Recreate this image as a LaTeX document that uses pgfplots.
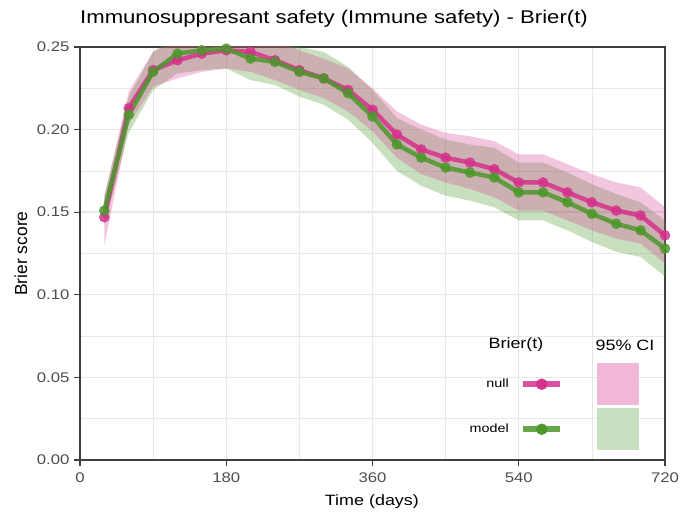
\documentclass[border=0pt]{standalone}
\usepackage{graphicx}
\usepackage{pgfplots}
\pgfplotsset{compat=1.18}
\usepackage{pgfplotstable}
\usepgfplotslibrary{fillbetween}
\usepackage{fontspec}
\setmainfont{Liberation Sans}
\definecolor{pinkc}{RGB}{212,50,140}
\definecolor{greenc}{RGB}{76,152,44}
\definecolor{gridc}{RGB}{232,232,232}
\definecolor{tickc}{RGB}{77,77,77}
\newcommand\hs[1]{\scalebox{1.2}[1]{#1}}

\pgfplotstableread{
day null nlo nhi model mlo mhi
30  0.147 0.130 0.160 0.151 0.142 0.160
60  0.213 0.203 0.223 0.209 0.198 0.220
90  0.236 0.226 0.247 0.235 0.224 0.247
120 0.242 0.231 0.254 0.246 0.234 0.258
150 0.246 0.235 0.258 0.248 0.236 0.260
180 0.248 0.237 0.260 0.249 0.237 0.261
210 0.247 0.235 0.259 0.243 0.230 0.256
240 0.242 0.230 0.254 0.241 0.227 0.255
270 0.236 0.224 0.248 0.235 0.220 0.250
300 0.231 0.219 0.243 0.231 0.215 0.247
330 0.224 0.211 0.237 0.222 0.206 0.238
360 0.212 0.199 0.225 0.208 0.192 0.224
390 0.197 0.183 0.211 0.191 0.175 0.207
420 0.188 0.173 0.203 0.183 0.166 0.200
450 0.183 0.168 0.198 0.177 0.160 0.194
480 0.180 0.164 0.196 0.174 0.157 0.191
510 0.176 0.159 0.193 0.171 0.153 0.189
540 0.168 0.151 0.185 0.162 0.145 0.180
570 0.168 0.151 0.185 0.162 0.145 0.180
600 0.162 0.145 0.179 0.156 0.139 0.174
630 0.156 0.139 0.173 0.149 0.132 0.167
660 0.151 0.134 0.168 0.143 0.126 0.161
690 0.148 0.131 0.165 0.139 0.123 0.156
720 0.136 0.119 0.153 0.128 0.111 0.145
}\brier

\begin{document}
\begin{tikzpicture}
\begin{axis}[
  scale only axis,
  width=585bp, height=413bp,
  xmin=0, xmax=720, ymin=0, ymax=0.25,
  xtick={0,180,360,540,720},
  minor xtick={90,270,450,630},
  ytick={0,0.05,0.10,0.15,0.20,0.25},
  minor ytick={0.025,0.075,0.125,0.175,0.225},
  xticklabel={\hs{\pgfmathprintnumber{\tick}}},
  yticklabel={\hs{\pgfmathprintnumber[fixed,fixed zerofill,precision=2]{\tick}}},
  /pgf/number format/assume math mode=true,
  grid=both,
  major grid style={gridc, line width=1.4bp},
  minor grid style={gridc, line width=0.7bp},
  axis line style={draw=tickc!80!black, line width=1.2bp},
  tick style={tickc!80!black, line width=1.2bp},
  major tick length=6bp, minor tick length=0pt,
  tick align=outside,
  xtick pos=bottom, ytick pos=left,
  ticklabel style={font=\fontsize{14}{16}\selectfont, text=tickc},
  xticklabel style={yshift=-3bp},
  yticklabel style={xshift=-1bp},
  xlabel={\hs{Time (days)}}, ylabel={Brier score},
  every axis x label/.style={at={(axis description cs:0.499,-0.1017)}, anchor=center, font=\fontsize{15}{17}\selectfont},
  every axis y label/.style={at={(axis description cs:-0.1009,0.5)}, anchor=center, rotate=90, font=\fontsize{17.5}{19}\selectfont},
  title={\hs{Immunosuppresant safety (Immune safety) - Brier(t)}},
  title style={font=\fontsize{18.5}{20}\selectfont, at={(axis description cs:0,1)}, anchor=base west, inner sep=0pt, xshift=0bp, yshift=18bp},
  legend columns=2,
  legend plot pos=right,
  legend cell align=right,
  legend style={at={(axis cs:688,0.0587)}, anchor=north east, draw=none, fill=none,
    font=\fontsize{12}{14}\selectfont, inner sep=0pt, row sep=3bp,
    /tikz/every odd column/.append style={column sep=9bp},
    /tikz/every even column/.append style={column sep=21bp}},
]
\addplot[name path=nhi, draw=none, forget plot] table[x=day,y=nhi]{\brier};
\addplot[name path=nlo, draw=none, forget plot] table[x=day,y=nlo]{\brier};
\addplot[name path=mhi, draw=none, forget plot] table[x=day,y=mhi]{\brier};
\addplot[name path=mlo, draw=none, forget plot] table[x=day,y=mlo]{\brier};
\addplot[fill=greenc, fill opacity=0.3, draw=none, forget plot] fill between[of=mhi and mlo];
\addplot[fill=pinkc, fill opacity=0.28, draw=none, forget plot] fill between[of=nhi and nlo];
\addplot[pinkc, opacity=0.85, line width=4.5bp, mark=*, mark size=5bp, mark options={line width=0.5bp}, forget plot] table[x=day,y=null]{\brier};
\addplot[greenc, opacity=0.85, line width=4.5bp, mark=*, mark size=5bp, mark options={line width=0.5bp}, forget plot] table[x=day,y=model]{\brier};

\addlegendimage{legend image code/.code={\draw[pinkc, opacity=0.85, line width=6bp] (0bp,0bp) -- (37bp,0bp); \fill[pinkc] (19bp,0bp) circle (5.5bp);}}
\addlegendimage{legend image code/.code={\path[draw=none, fill=pinkc!35!white] (0bp,-21bp) rectangle (42bp,21bp);}}
\addlegendimage{legend image code/.code={\draw[greenc, opacity=0.85, line width=6bp] (0bp,0bp) -- (37bp,0bp); \fill[greenc] (19bp,0bp) circle (5.5bp);}}
\addlegendimage{legend image code/.code={\path[draw=none, fill=greenc!30!white] (0bp,-21bp) rectangle (42bp,21bp);}}
\legend{\hs{null},\mbox{},\hs{model},\mbox{}}

\node[font=\fontsize{15}{17}\selectfont] at (axis cs:536.6,0.0696) {\hs{Brier(t)}};
\node[font=\fontsize{15}{17}\selectfont] at (axis cs:670.8,0.0696) {\hs{95\% CI}};
\end{axis}
\pgfresetboundingbox
\path[use as bounding box] (-80bp,-58bp) rectangle (616bp,460bp);
\end{tikzpicture}
\end{document}
